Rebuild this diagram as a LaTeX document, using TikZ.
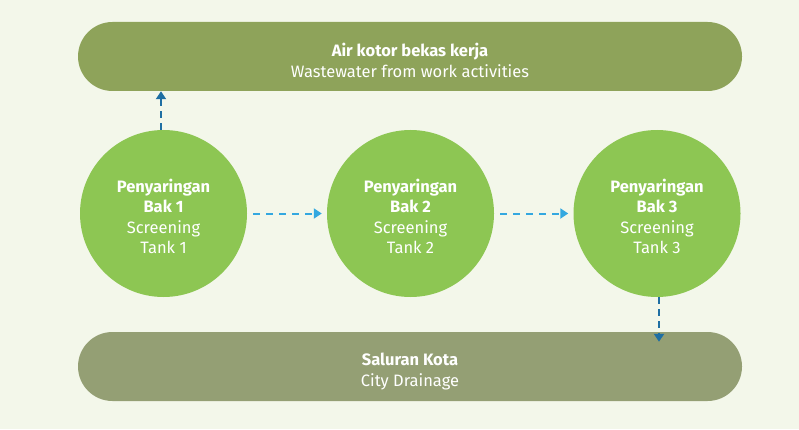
\documentclass[tikz,border=0pt]{standalone}
\usepackage{fontspec}
\setmainfont{Fira Sans}
\usetikzlibrary{arrows.meta}
\definecolor{bgc}{HTML}{F3F7EA}
\definecolor{topc}{HTML}{8EA35A}
\definecolor{botc}{HTML}{949F74}
\definecolor{circc}{HTML}{8DC653}
\definecolor{darkarrow}{HTML}{1F6FA3}
\definecolor{lightarrow}{HTML}{33A8E0}
\newcommand{\bandstrut}{\rule{0pt}{22pt}}
\newcommand{\tankstrut}{\rule{0pt}{19pt}}
\tikzset{
  band/.style={draw=none, rounded corners=34.5pt, minimum width=664pt, minimum height=69pt, inner sep=0pt, text=white, align=center, font=\fontsize{16.5}{21}\selectfont},
  tank/.style={circle, draw=none, fill=circc, minimum size=167pt, inner sep=0pt, text=white, align=center, font=\fontsize{16.5}{20.5}\selectfont},
  flowh/.style={draw=lightarrow, line width=2pt, dash pattern=on 7pt off 6pt, -{Triangle[length=8pt,width=10pt]}},
  flowv/.style={draw=darkarrow, line width=2pt, dash pattern=on 7pt off 5pt, -{Triangle[length=8pt,width=10pt]}}
}
\begin{document}
\begin{tikzpicture}[x=1pt,y=1pt]
\fill[bgc] (0,0) rectangle (799,429);
\useasboundingbox (0,0) rectangle (799,429);
\node[band, fill=topc] (top) at (410,372.5) {\bandstrut\textbf{Air kotor bekas kerja}\\Wastewater from work activities};
\node[band, fill=botc] (bot) at (410,62.5) {\bandstrut\textbf{Saluran Kota}\\City Drainage};
\node[tank] (c1) at (163.5,215.5) {\tankstrut\textbf{Penyaringan}\\\textbf{Bak 1}\\Screening\\Tank 1};
\node[tank] (c2) at (410.5,215.5) {\tankstrut\textbf{Penyaringan}\\\textbf{Bak 2}\\Screening\\Tank 2};
\node[tank] (c3) at (657,215.5) {\tankstrut\textbf{Penyaringan}\\\textbf{Bak 3}\\Screening\\Tank 3};
\draw[flowh, shorten <=6pt, shorten >=5pt] (c1.east) -- (c2.west);
\draw[flowh, shorten <=6pt, shorten >=5pt] (c2.east) -- (c3.west);
\draw[flowv] ([xshift=-2.5pt]c1.north) -- ([xshift=-2.5pt]c1.north |- top.south);
\draw[flowv] ([xshift=2pt]c3.south) -- ([xshift=2pt,yshift=-10pt]c3.south |- bot.north);
\end{tikzpicture}
\end{document}
